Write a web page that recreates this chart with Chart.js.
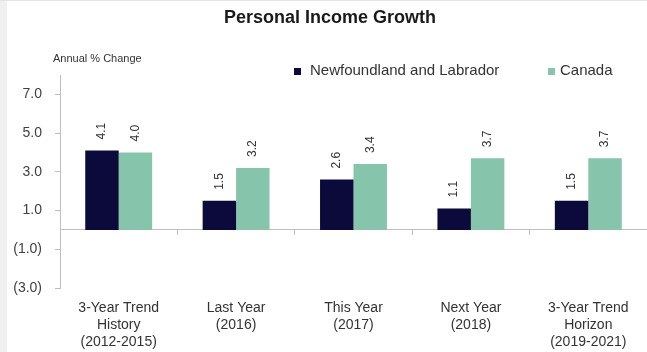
<!DOCTYPE html>
<html>
<head>
<meta charset="utf-8">
<script src="https://cdn.jsdelivr.net/npm/chart.js@4/dist/chart.umd.min.js"></script>
<style>
  body { margin: 0; background: #fff; }
  #wrap { position: relative; width: 647px; height: 352px; }
</style>
</head>
<body>
<div id="wrap"><canvas id="graphCanvas"></canvas></div>
<script>
//--------------------- DONNEES -------------------------
const categories = [
    ['3-Year Trend', 'History', '(2012-2015)'],
    ['Last Year', '(2016)'],
    ['This Year', '(2017)'],
    ['Next Year', '(2018)'],
    ['3-Year Trend', 'Horizon', '(2019-2021)']
];
const nlValues = [4.1, 1.5, 2.6, 1.1, 1.5];
const canadaValues = [4.0, 3.2, 3.4, 3.7, 3.7];
const yTicks = [-3, -1, 1, 3, 5, 7];

const NAVY = '#0b0a3a';
const GREEN = '#86c5ac';
const AXIS = '#bfbfbf';
const FONT = '"Liberation Sans", Arial, sans-serif';

function fmt(v) {
    return v < 0 ? '(' + Math.abs(v).toFixed(1) + ')' : v.toFixed(1);
}

// titre, libelle d'axe, legende + fond
const header = {
    id: 'header',
    beforeDraw(chart) {
        const ctx = chart.ctx;
        ctx.save();
        ctx.fillStyle = '#fff';
        ctx.fillRect(0, 0, chart.width, chart.height);
        ctx.fillStyle = '#f0f0f0';
        ctx.fillRect(0, 0, 7, chart.height);
        ctx.fillStyle = '#e4e4e4';
        ctx.fillRect(0, 0, chart.width, 1);
        ctx.restore();
    },
    afterDraw(chart) {
        const ctx = chart.ctx;
        ctx.save();
        ctx.textBaseline = 'middle';
        ctx.fillStyle = '#1a1a1a';
        ctx.font = 'bold 18px ' + FONT;
        ctx.textAlign = 'center';
        ctx.fillText('Personal Income Growth', 330, 18);

        ctx.fillStyle = '#333';
        ctx.font = '11px ' + FONT;
        ctx.textAlign = 'left';
        ctx.fillText('Annual % Change', 53, 59);

        // legende
        const items = [[297, 310], [551, 560]];
        ctx.font = '15px ' + FONT;
        chart.data.datasets.forEach((ds, i) => {
            ctx.fillStyle = ds.backgroundColor;
            ctx.fillRect(items[i][0] - 3, 68, 7, 7);
            ctx.fillStyle = '#333';
            ctx.fillText(ds.label, items[i][1], 71);
        });
        ctx.restore();
    },
    // valeurs verticales au-dessus des barres
    afterDatasetsDraw(chart) {
        const ctx = chart.ctx;
        ctx.save();
        ctx.font = '12px ' + FONT;
        ctx.fillStyle = '#333';
        ctx.textAlign = 'left';
        ctx.textBaseline = 'middle';
        chart.data.datasets.forEach((ds, i) => {
            chart.getDatasetMeta(i).data.forEach((bar, j) => {
                ctx.save();
                ctx.translate(bar.x, bar.y - 11);
                ctx.rotate(-Math.PI / 2);
                ctx.fillText(ds.data[j].toFixed(1), 0, 0);
                ctx.restore();
            });
        });
        ctx.restore();
    }
};

//--------------------- GRAPH -------------------------
const data = {
    labels: categories,
    datasets: [{
        label: 'Newfoundland and Labrador',
        data: nlValues,
        backgroundColor: NAVY
    }, {
        label: 'Canada',
        data: canadaValues,
        backgroundColor: GREEN
    }]
};

const config = {
    type: 'bar',
    data,
    options: {
        responsive: true,
        maintainAspectRatio: false,
        animation: false,
        categoryPercentage: 0.57,
        barPercentage: 1.0,
        layout: { padding: { top: 75, left: 0, right: 0, bottom: 0 } },
        plugins: {
            legend: { display: false },
            title: { display: false },
            tooltip: { enabled: false }
        },
        scales: {
            x: {
                grid: { display: false },
                border: { display: false },
                ticks: {
                    color: '#333',
                    font: { family: FONT, size: 14, lineHeight: 1.2 },
                    maxRotation: 0,
                    autoSkip: false,
                    padding: 4
                },
                afterFit(scale) { scale.height = 64; }
            },
            x2: {
                type: 'category',
                axis: 'x',
                labels: categories,
                position: { y: 0 },
                offset: true,
                grid: { offset: true, drawOnChartArea: false, tickLength: 5, color: AXIS },
                border: { display: true, color: AXIS, width: 1 },
                ticks: { display: false }
            },
            y: {
                min: -3,
                max: 8,
                afterBuildTicks(scale) {
                    scale.ticks = yTicks.map(v => ({ value: v }));
                },
                grid: { drawOnChartArea: false, tickLength: 5, color: AXIS },
                border: { color: AXIS },
                ticks: {
                    color: '#404040',
                    font: { family: FONT, size: 14 },
                    padding: 13,
                    callback: v => fmt(v)
                },
                afterFit(scale) { scale.width = 60; }
            }
        }
    },
    plugins: [header]
};

const graphCanvas = new Chart(
    document.getElementById('graphCanvas').getContext('2d'),
    config
);
</script>
</body>
</html>
